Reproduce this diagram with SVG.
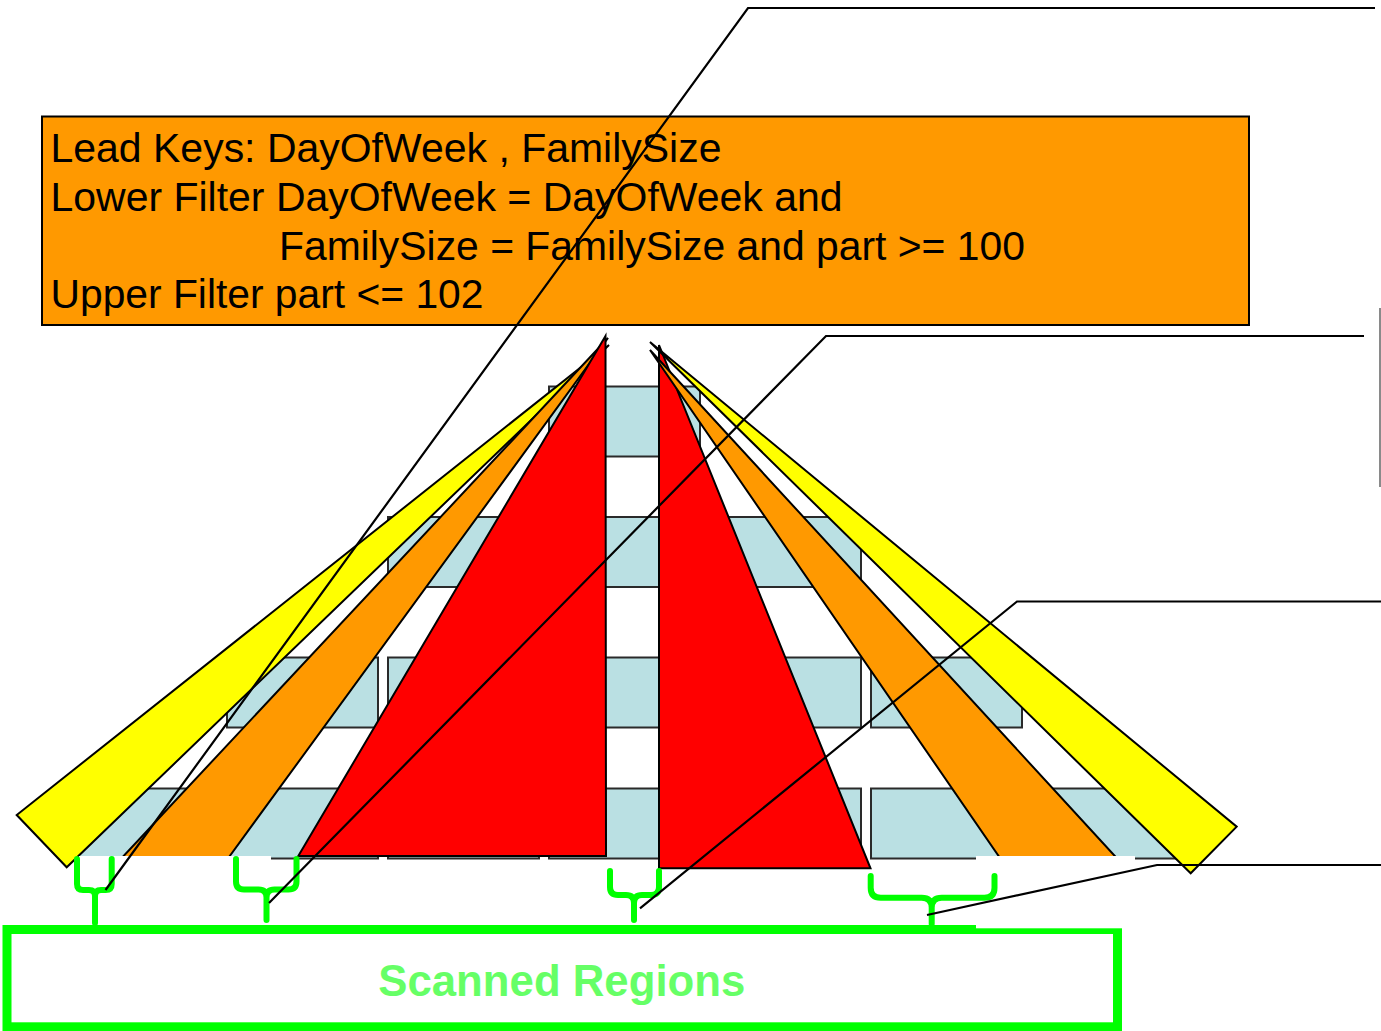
<svg xmlns="http://www.w3.org/2000/svg" width="1381" height="1031" viewBox="0 0 1381 1031">
<style>
.cell{fill:#BAE0E3;stroke:#2a2a2a;stroke-width:2}
.wedge{stroke:#000;stroke-width:2;stroke-linejoin:miter}
.y{fill:#FFFF00}.o{fill:#FF9900}.r{fill:#FF0000}
.mask{fill:#fff;stroke:none}
.brace{fill:none;stroke:#00FF00;stroke-width:6;stroke-linecap:round;stroke-linejoin:round}
.conn{fill:none;stroke:#000;stroke-width:2.2}
.lbl{font-family:"Liberation Sans",Arial,sans-serif;font-size:41px;fill:#000}
</style>
<rect width="1381" height="1031" fill="#fff"/>
<g id="grid">
<rect class="cell" x="549" y="386.5" width="151" height="70"/>
<rect class="cell" x="388" y="517" width="151" height="70"/>
<rect class="cell" x="549" y="517" width="151" height="70"/>
<rect class="cell" x="710" y="517" width="151" height="70"/>
<rect class="cell" x="227" y="657.5" width="151" height="70"/>
<rect class="cell" x="388" y="657.5" width="151" height="70"/>
<rect class="cell" x="549" y="657.5" width="151" height="70"/>
<rect class="cell" x="710" y="657.5" width="151" height="70"/>
<rect class="cell" x="871" y="657.5" width="151" height="70"/>
<rect class="cell" x="66" y="788.5" width="151" height="70"/>
<rect class="cell" x="227" y="788.5" width="151" height="70"/>
<rect class="cell" x="388" y="788.5" width="151" height="70"/>
<rect class="cell" x="549" y="788.5" width="151" height="70"/>
<rect class="cell" x="710" y="788.5" width="151" height="70"/>
<rect class="cell" x="871" y="788.5" width="151" height="70"/>
<rect class="cell" x="1032" y="788.5" width="151" height="70"/>
</g>
<g id="left-fan">
<polygon class="wedge y" points="609,345 16.7,815 66.7,867.3"/>
<polygon class="wedge o" points="608,338 121.7,858 228.3,858"/>
<polygon class="wedge r" points="605.5,336 298.3,856 606,856"/>
</g>
<g id="right-fan">
<polygon class="wedge r" points="659,345 659,868.3 870.5,868.3"/>
<polygon class="wedge o" points="650,350 1000,858 1116.7,858"/>
<polygon class="wedge y" points="650,342 1236.7,826.7 1190.7,873.3"/>
</g>
<g id="scanned-regions">
<rect x="7" y="929.5" width="1110.5" height="97.3" fill="#fff" stroke="#00FF00" stroke-width="9"/>
<text x="378.3" y="995.7" textLength="367" lengthAdjust="spacingAndGlyphs" font-family="Liberation Sans, Arial, sans-serif" font-weight="bold" font-size="45" fill="#66FF66">Scanned Regions</text>
</g>
<g id="masks">
<rect class="mask" x="79" y="856" width="192" height="69"/>
<rect class="mask" x="976" y="856" width="159" height="72.3"/>
</g>
<g id="braces">
<path class="brace" d="M77,859 V884 Q77,890 83,890 H89 Q95,890 95,896 V923 M111.7,859 V884 Q111.7,890 105.7,890 H101 Q95,890 95,896"/>
<path class="brace" d="M236,859 V881.5 Q236,889.5 244,889.5 H258.5 Q266.5,889.5 266.5,897.5 V920 M296.5,859 V881.5 Q296.5,889.5 288.5,889.5 H274.5 Q266.5,889.5 266.5,897.5"/>
<path class="brace" d="M610,871 V887 Q610,895 618,895 H626 Q634,895 634,903 V920 M659,871 V887 Q659,895 651,895 H642 Q634,895 634,903"/>
<path class="brace" d="M870.7,876 V887.7 Q870.7,897.7 880.7,897.7 H921.7 Q931.7,897.7 931.7,907.7 V924 M994.5,876 V887.7 Q994.5,897.7 984.5,897.7 H941.7 Q931.7,897.7 931.7,907.7"/>
</g>
<g id="filter-box">
<rect x="42" y="116.5" width="1207" height="208.5" fill="#FF9900" stroke="#000" stroke-width="2"/>
<text class="lbl" x="50.5" y="161.5" textLength="671" lengthAdjust="spacingAndGlyphs">Lead Keys: DayOfWeek , FamilySize</text>
<text class="lbl" x="50.5" y="210.5" textLength="792" lengthAdjust="spacingAndGlyphs">Lower Filter DayOfWeek = DayOfWeek and</text>
<text class="lbl" x="279" y="259.5" textLength="746" lengthAdjust="spacingAndGlyphs">FamilySize = FamilySize and part &gt;= 100</text>
<text class="lbl" x="50.5" y="308" textLength="433" lengthAdjust="spacingAndGlyphs">Upper Filter part &lt;= 102</text>
</g>
<g id="connectors">
<polyline class="conn" points="1375,8 748,8 105.5,890"/>
<polyline class="conn" points="1364,336 826,336 269,903"/>
<polyline class="conn" points="1381,601.5 1017,601.5 640,908.3"/>
<polyline class="conn" points="1381,865 1157,865 927,915"/>
<line x1="1380" y1="308" x2="1380" y2="487" stroke="#8a8a8a" stroke-width="2"/>
</g>
</svg>
